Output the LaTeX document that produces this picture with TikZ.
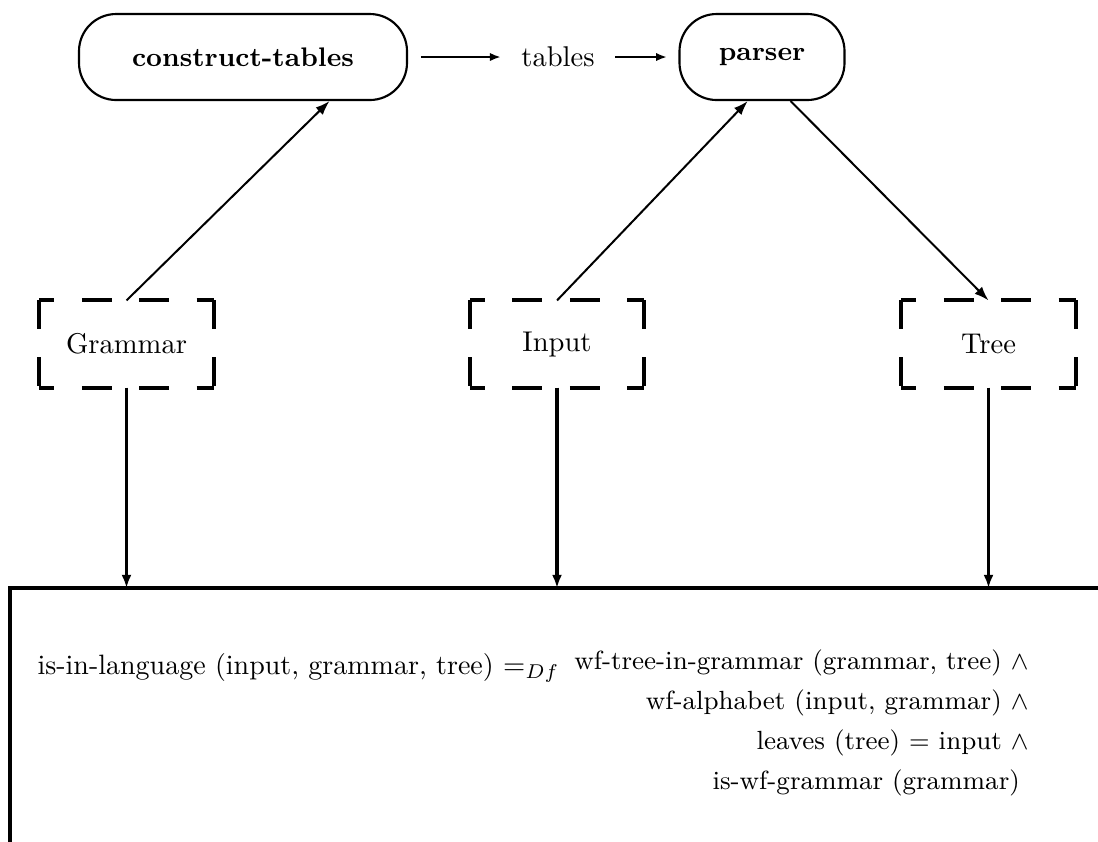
\documentclass[tikz,border=0pt]{standalone}
\usetikzlibrary{arrows.meta,calc}
\begin{document}
\begin{tikzpicture}[x=0.35pt,y=-0.35pt,
  proc/.style={draw,line width=0.75pt,rounded corners=13pt,minimum height=30.1pt,inner sep=0pt,
    font=\fontsize{9.4}{11}\selectfont\bfseries},
  datum/.style={draw=none,minimum width=60.55pt,minimum height=30.1pt,inner sep=0pt},
  hside/.style={line width=1.4pt,dash pattern=on 10.5pt off 9.6pt,dash phase=5.25pt},
  vside/.style={line width=1.4pt,dash pattern=on 10.15pt off 9.8pt},
  flow/.style={-{Latex[length=3.8pt,width=2.9pt]},line width=1pt},
  feed/.style={-{Latex[length=5pt,width=3.6pt]},line width=0.7pt},
  drop/.style={-{Latex[length=4.6pt,width=3.5pt]},line width=1.1pt},
  frame/.style={line width=1.2pt},
  defn/.style={inner sep=0pt,font=\fontsize{9.2}{12.8}\selectfont}]
\clip (0,0) rectangle (1098,841);

% processes
\node[proc,minimum width=114.8pt] (ct) at (243,57) {construct-tables};
\node[proc,minimum width=57.75pt] (ps) at (762,57) {parser};
\node[inner sep=7pt] (tab) at (558,57) {tables};
\draw[flow,shorten <=4.5pt] (ct) -- (tab);
\draw[flow,shorten >=4pt] (tab) -- (ps);

% data items, framed by dashed brackets
\newcommand\bracketbox[1]{%
  \draw[hside] (#1.north west) -- (#1.north east);
  \draw[hside] (#1.south west) -- (#1.south east);
  \draw[vside] (#1.north west) -- (#1.south west);
  \draw[vside] (#1.north east) -- (#1.south east);}
\node[datum] (gr) at (126.5,344) {Grammar};
\node[datum] (in) at (557,344) {Input};
\node[datum] (tr) at (988.5,344) {Tree};
\bracketbox{gr}\bracketbox{in}\bracketbox{tr}

\draw[feed] (gr.north) -- (ct.-27);
\draw[feed] (in.north) -- (ps.-108);
\draw[feed] (ps.-57) -- (tr.north);

% specification frame
\coordinate (fl) at (10,588);
\coordinate (fr) at (1110,588);
\coordinate (fb) at (10,850);
\draw[frame] (fr) -- (fl) -- (fb);
\draw[drop] (gr.south) -- (gr.south |- fl);
\draw[drop] (in.south) -- (in.south |- fl);
\draw[drop] (tr.south) -- (tr.south |- fl);

% definition
\node[defn,anchor=base west,font=\fontsize{9.8}{12}\selectfont] (lhs) at (37,674)
  {is-in-language (input, grammar, tree) $=_{Df}$};
\node[defn,anchor=base east] (rhs) at (1029,669)
  {\renewcommand\arraystretch{1.1}%
   \begin{tabular}[t]{@{}r@{}}
   wf-tree-in-grammar (grammar, tree) $\wedge$\\
   wf-alphabet (input, grammar) $\wedge$\\
   leaves (tree) $=$ input $\wedge$\\
   is-wf-grammar (grammar)\kern3pt
   \end{tabular}};
\end{tikzpicture}
\end{document}
